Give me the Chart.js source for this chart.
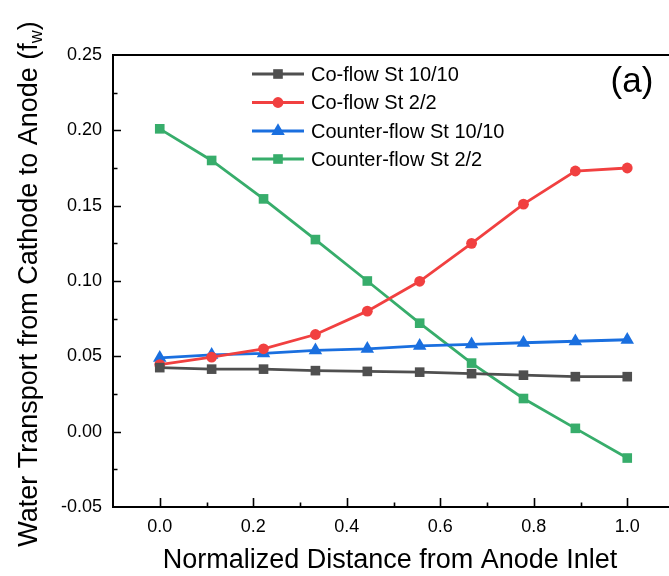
<!DOCTYPE html>
<html>
<head>
<meta charset="utf-8">
<script src="https://cdn.jsdelivr.net/npm/chart.js@4/dist/chart.umd.min.js"></script>
<style>
  html, body { margin: 0; padding: 0; overflow: hidden; background: #fff; }
  canvas { display: block; }
</style>
</head>
<body>
<canvas id="chart" width="669" height="576" style="width:669px;height:576px"></canvas>
<script>
// Normalized distance from the anode inlet (10 stations)
const distance = [0.0, 0.111, 0.222, 0.333, 0.444, 0.556, 0.667, 0.778, 0.889, 1.0];

// Water transport from cathode to anode, f_w
const coFlowSt10 = [0.0425, 0.0415, 0.0415, 0.0405, 0.0400, 0.0395, 0.0385, 0.0375, 0.0365, 0.0365];
const coFlowSt2 = [0.0445, 0.0495, 0.0550, 0.0645, 0.0800, 0.0998, 0.1250, 0.1510, 0.1730, 0.1750];
const counterFlowSt10 = [0.0490, 0.0510, 0.0520, 0.0540, 0.0550, 0.0570, 0.0580, 0.0590, 0.0600, 0.0610];
const counterFlowSt2 = [0.2010, 0.1800, 0.1545, 0.1275, 0.1000, 0.0720, 0.0455, 0.0220, 0.0022, -0.0175];

const seriesNames = ['Co-flow St 10/10', 'Co-flow St 2/2', 'Counter-flow St 10/10', 'Counter-flow St 2/2'];
const xTickValues = [0.0, 0.2, 0.4, 0.6, 0.8, 1.0];
const yTickValues = [-0.05, 0.00, 0.05, 0.10, 0.15, 0.20, 0.25];
const panelLabel = '(a)';
const xTitle = 'Normalized Distance from Anode Inlet';
const yTitle = 'Water Transport from Cathode to Anode (f';
const yTitleSub = 'w';

const FONT = '"Liberation Sans", Arial, Helvetica, sans-serif';
const X_MIN = -0.1;
const X_PX_PER_UNIT = 467.5; // horizontal scale; the plot runs past the right edge

function pts(ys) { return ys.map((y, i) => ({ x: distance[i], y })); }

const styles = [
  { color: '#4F4F4F', pointStyle: 'rect', radius: 6.8 },
  { color: '#F14040', pointStyle: 'circle', radius: 5.4 },
  { color: '#1A6FDF', pointStyle: 'triangle', radius: 7.8 },
  { color: '#37AD6B', pointStyle: 'rect', radius: 6.8 }
];
const seriesData = [coFlowSt10, coFlowSt2, counterFlowSt10, counterFlowSt2];

const datasets = seriesData.map((d, i) => ({
  label: seriesNames[i],
  data: pts(d),
  borderColor: styles[i].color,
  backgroundColor: styles[i].color,
  borderWidth: 2.8,
  pointStyle: styles[i].pointStyle,
  pointRadius: styles[i].radius,
  pointBorderWidth: 0,
  pointBackgroundColor: styles[i].color,
  tension: 0,
  clip: false
}));

function drawMarker(ctx, style, x, y, r, color) {
  ctx.save();
  ctx.fillStyle = color;
  ctx.beginPath();
  if (style === 'rect') {
    const s = Math.SQRT1_2 * r;
    ctx.rect(x - s, y - s, 2 * s, 2 * s);
  } else if (style === 'circle') {
    ctx.arc(x, y, r, 0, Math.PI * 2);
  } else if (style === 'triangle') {
    for (let k = 0; k < 3; k++) {
      const a = k * 2 * Math.PI / 3;
      const px = x + Math.sin(a) * r, py = y - Math.cos(a) * r;
      if (k === 0) ctx.moveTo(px, py); else ctx.lineTo(px, py);
    }
    ctx.closePath();
  }
  ctx.fill();
  ctx.restore();
}

// Frame, inward ticks, legend, panel letter and axis titles
const decorations = {
  id: 'decorations',
  beforeDraw(chart) {
    const ctx = chart.ctx;
    ctx.save();
    ctx.fillStyle = '#fff';
    ctx.fillRect(0, 0, chart.width, chart.height);
    ctx.restore();
  },
  afterDraw(chart) {
    const ctx = chart.ctx;
    const a = chart.chartArea;
    const xs = chart.scales.x, ys = chart.scales.y;
    ctx.save();
    ctx.strokeStyle = '#000';
    ctx.lineWidth = 2;
    ctx.beginPath();
    ctx.moveTo(a.left, a.top); ctx.lineTo(chart.width, a.top);
    ctx.moveTo(a.left, a.top - 1); ctx.lineTo(a.left, a.bottom + 1);
    ctx.moveTo(a.left - 1, a.bottom); ctx.lineTo(chart.width, a.bottom);
    ctx.stroke();

    ctx.lineWidth = 1.6;
    ctx.beginPath();
    // x ticks (major + minor), pointing up
    for (let k = 0; k <= 11; k++) {
      const v = k / 10;
      const px = Math.round(xs.getPixelForValue(v)) + 0.5;
      if (px > chart.width) continue;
      const len = k % 2 === 0 ? 9 : 4.5;
      ctx.moveTo(px, a.bottom); ctx.lineTo(px, a.bottom - len);
    }
    // y ticks (major + minor), pointing right
    for (let k = -1; k <= 9; k++) {
      const v = k * 0.025;
      const py = Math.round(ys.getPixelForValue(v)) + 0.5;
      const len = k % 2 === 0 ? 8 : 4.5;
      ctx.moveTo(a.left, py); ctx.lineTo(a.left + len, py);
    }
    ctx.stroke();

    // legend
    const rowY = [74, 102.5, 131, 159];
    ctx.font = '20px ' + FONT;
    ctx.textBaseline = 'middle';
    ctx.textAlign = 'left';
    chart.data.datasets.forEach((ds, i) => {
      const y = rowY[i];
      ctx.strokeStyle = ds.borderColor;
      ctx.lineWidth = 2.8;
      ctx.beginPath();
      ctx.moveTo(252, y); ctx.lineTo(304, y);
      ctx.stroke();
      drawMarker(ctx, ds.pointStyle, 278, y, ds.pointRadius, ds.borderColor);
      ctx.fillStyle = '#000';
      ctx.fillText(ds.label, 311, y + 1);
    });

    // panel letter
    ctx.font = '35px ' + FONT;
    ctx.textAlign = 'center';
    ctx.fillText(panelLabel, 632, 82);

    // x title
    ctx.font = '27px ' + FONT;
    ctx.textAlign = 'center';
    ctx.textBaseline = 'alphabetic';
    ctx.fillText(xTitle, 390, 568);

    // y title (rotated, with subscript)
    ctx.translate(37, 284);
    ctx.rotate(-Math.PI / 2);
    ctx.font = '27px ' + FONT;
    const mainW = ctx.measureText(yTitle).width;
    ctx.font = '18px ' + FONT;
    const subW = ctx.measureText(yTitleSub).width;
    ctx.font = '27px ' + FONT;
    const closeW = ctx.measureText(')').width;
    const total = mainW + subW + closeW;
    const x0 = -total / 2;
    ctx.textAlign = 'left';
    ctx.fillText(yTitle, x0, 0);
    ctx.font = '18px ' + FONT;
    ctx.fillText(yTitleSub, x0 + mainW, 5);
    ctx.font = '27px ' + FONT;
    ctx.fillText(')', x0 + mainW + subW, 0);
    ctx.restore();
  }
};

const chart = new Chart(document.getElementById('chart'), {
  type: 'line',
  data: { datasets },
  options: {
    responsive: false,
    animation: false,
    devicePixelRatio: 1,
    layout: { padding: { left: 0, top: 55, right: 0, bottom: 0 } },
    plugins: { legend: { display: false }, tooltip: { enabled: false }, title: { display: false } },
    scales: {
      x: {
        type: 'linear',
        min: X_MIN,
        max: 1.1,
        afterFit(s) { s.height = 69; s.paddingLeft = 0; s.paddingRight = 0; },
        afterBuildTicks(s) { s.ticks = xTickValues.map(v => ({ value: v })); },
        grid: { display: false, drawTicks: false },
        border: { display: false },
        ticks: {
          padding: 9,
          color: '#000',
          font: { family: FONT, size: 18 },
          maxRotation: 0,
          callback: v => Number(v).toFixed(1)
        }
      },
      y: {
        type: 'linear',
        min: -0.05,
        max: 0.25,
        afterFit(s) { s.width = 113; s.paddingTop = 0; s.paddingBottom = 0; },
        afterBuildTicks(s) { s.ticks = yTickValues.map(v => ({ value: v })); },
        grid: { display: false, drawTicks: false },
        border: { display: false },
        ticks: {
          padding: 11,
          color: '#000',
          font: { family: FONT, size: 18 },
          callback: v => Number(v).toFixed(2)
        }
      }
    }
  },
  plugins: [decorations]
});

// Fix the horizontal scale so the axis keeps a constant pixels-per-unit
const area = chart.chartArea;
chart.options.scales.x.max = X_MIN + (area.right - area.left) / X_PX_PER_UNIT;
chart.update();
</script>
</body>
</html>
